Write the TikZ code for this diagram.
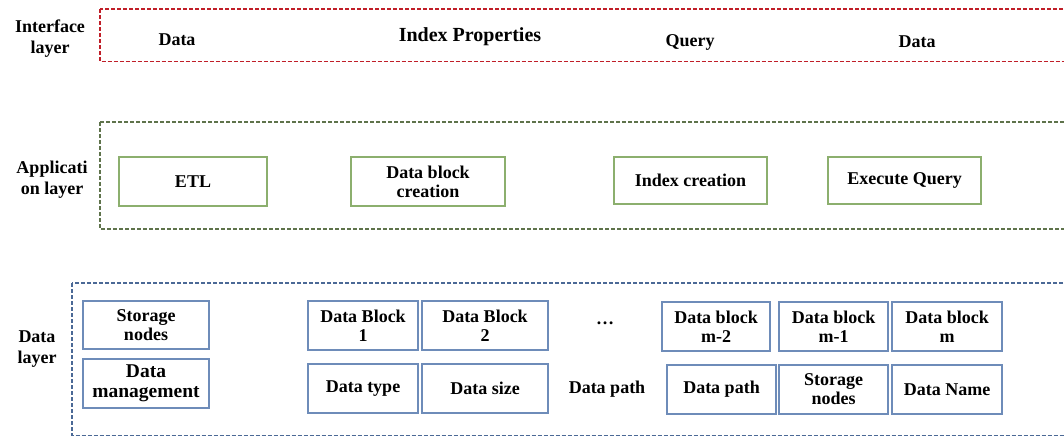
\documentclass[tikz,border=0pt]{standalone}
\usepackage{fontspec}
\setmainfont{Liberation Serif}
\definecolor{redd}{RGB}{192,30,40}
\definecolor{grnd}{RGB}{95,115,75}
\definecolor{grnb}{RGB}{140,175,110}
\definecolor{blud}{RGB}{75,105,150}
\definecolor{blub}{RGB}{110,140,185}
\begin{document}
\begin{tikzpicture}[x=1pt,y=-1pt,
  every node/.style={font=\fontsize{18}{19}\selectfont\bfseries, inner sep=0pt, align=center},
  layer/.style={line width=1.8pt, dash pattern=on 4pt off 2pt},
  gbox/.style={draw=grnb, line width=1.4pt},
  bbox/.style={draw=blub, line width=1.4pt},
  lbl/.style={font=\fontsize{18}{21}\selectfont\bfseries},
  itxt/.style={anchor=base}
]
\clip (0,0) rectangle (1064,437);
\fill[white] (0,0) rectangle (1064,437);
% layer frames
\draw[layer, draw=redd] (100,9) rectangle (1075,61.5);
\draw[layer, draw=grnd] (100,122) rectangle (1075,229);
\draw[layer, draw=blud] (72,283) rectangle (1075,435.5);
% layer labels
\node[lbl] (lint) at (50,39) {Interface\\layer};
\node[lbl] (lapp) at (52,180) {Applicati\\on layer};
\node[lbl] (ldat) at (37,349) {Data\\layer};
% interface layer
\node[itxt] (i1) at (177,45) {Data};
\node[itxt, font=\fontsize{20}{21}\selectfont\bfseries] (i2) at (470,41) {Index Properties};
\node[itxt] (i3) at (690,46) {Query};
\node[itxt] (i4) at (917,47) {Data};
% application layer
\node[gbox, minimum width=148pt, minimum height=49pt] (etl) at (193,181.5) {ETL};
\node[gbox, minimum width=154pt, minimum height=49pt] (dbc) at (428,181.5) {Data block\\creation};
\node[gbox, minimum width=153pt, minimum height=47pt] (idx) at (690.5,180.5) {Index creation};
\node[gbox, minimum width=153pt, minimum height=47pt] (exq) at (904.5,180.5) {Execute Query};
% data layer
\node[bbox, minimum width=126pt, minimum height=48pt] (sn) at (146,325) {Storage\\nodes};
\node[bbox, minimum width=126pt, minimum height=49pt, font=\fontsize{19.5}{20}\selectfont\bfseries] (dm) at (146,383.5) {Data\\management};
\node[bbox, minimum width=110pt, minimum height=49pt] (b1) at (363,325.5) {Data Block\\1};
\node[bbox, minimum width=126pt, minimum height=49pt] (b2) at (485,325.5) {Data Block\\2};
\node[bbox, minimum width=110pt, minimum height=49pt] (dt) at (363,388.5) {Data type};
\node[bbox, minimum width=126pt, minimum height=49pt] (ds) at (485,388.5) {Data size};
\node (dots) at (605,323) {\ldots};
\node (dp0) at (607,389) {Data path};
\node[bbox, minimum width=108pt, minimum height=49pt] (bm2) at (716,326.5) {Data block\\m-2};
\node[bbox, minimum width=109pt, minimum height=49pt] (bm1) at (833.5,326.5) {Data block\\m-1};
\node[bbox, minimum width=110pt, minimum height=49pt] (bm) at (947,326.5) {Data block\\m};
\node[bbox, minimum width=109pt, minimum height=49pt] (dp) at (721.5,389.5) {Data path};
\node[bbox, minimum width=109pt, minimum height=49pt] (sn2) at (833.5,389.5) {Storage\\nodes};
\node[bbox, minimum width=110pt, minimum height=49pt] (dn) at (947,389.5) {Data Name};
\end{tikzpicture}
\end{document}
